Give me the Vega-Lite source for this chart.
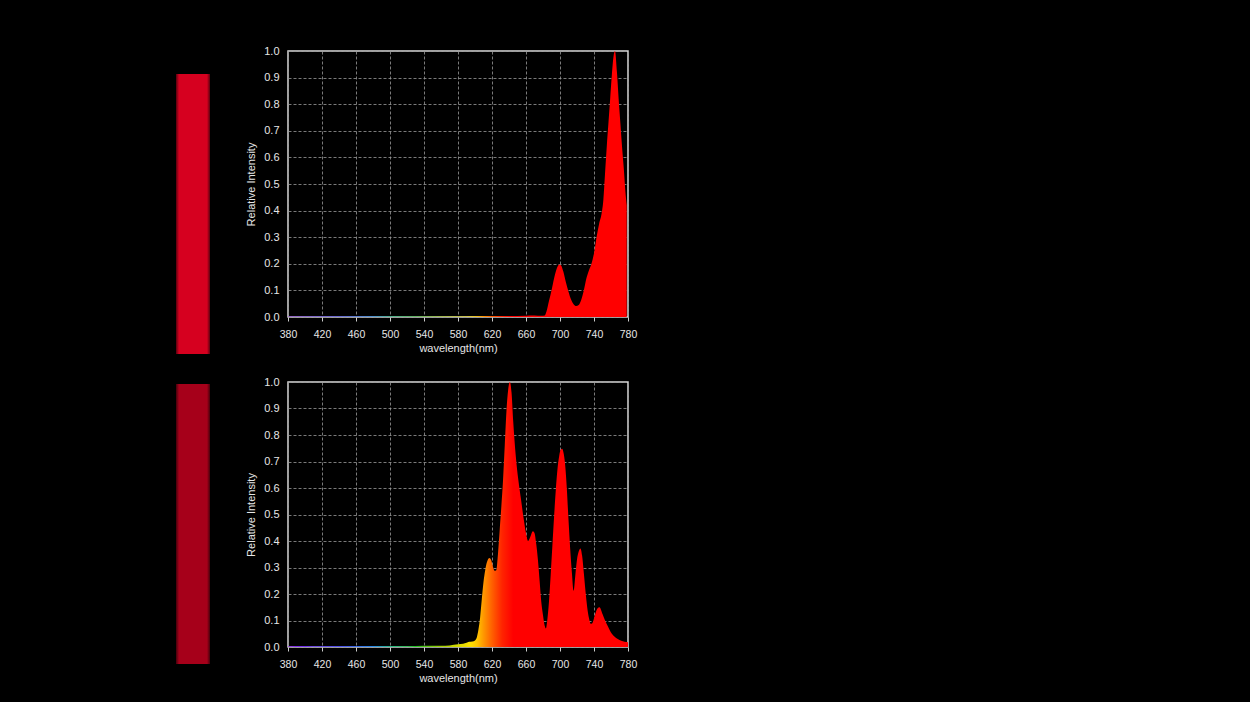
{
  "$schema": "https://vega.github.io/schema/vega-lite/v6.json",
  "background": "#000000",
  "padding": {"left": 176, "top": 44, "right": 620, "bottom": 38},
  "datasets": {
    "sw": [{"x0": 0, "x1": 1, "y0": 0, "y1": 1}],
    "top": [
      {"wl": 380, "v": 0.002}, {"wl": 400, "v": 0.002}, {"wl": 420, "v": 0.002}, {"wl": 440, "v": 0.002},
      {"wl": 460, "v": 0.002}, {"wl": 480, "v": 0.002}, {"wl": 500, "v": 0.002}, {"wl": 520, "v": 0.002},
      {"wl": 540, "v": 0.002}, {"wl": 560, "v": 0.002}, {"wl": 580, "v": 0.002}, {"wl": 600, "v": 0.003},
      {"wl": 620, "v": 0.004}, {"wl": 640, "v": 0.004}, {"wl": 660, "v": 0.005}, {"wl": 670, "v": 0.006},
      {"wl": 678, "v": 0.005}, {"wl": 682, "v": 0.006}, {"wl": 684, "v": 0.02}, {"wl": 687, "v": 0.06},
      {"wl": 690, "v": 0.1}, {"wl": 693, "v": 0.145}, {"wl": 696, "v": 0.18}, {"wl": 699, "v": 0.197},
      {"wl": 701, "v": 0.195}, {"wl": 704, "v": 0.17}, {"wl": 707, "v": 0.13}, {"wl": 710, "v": 0.095},
      {"wl": 713, "v": 0.066}, {"wl": 716, "v": 0.048}, {"wl": 719, "v": 0.041}, {"wl": 722, "v": 0.045},
      {"wl": 725, "v": 0.065}, {"wl": 728, "v": 0.1}, {"wl": 731, "v": 0.145}, {"wl": 734, "v": 0.175},
      {"wl": 737, "v": 0.2}, {"wl": 740, "v": 0.24}, {"wl": 743, "v": 0.3}, {"wl": 746, "v": 0.35},
      {"wl": 749, "v": 0.39}, {"wl": 751, "v": 0.44}, {"wl": 753, "v": 0.54}, {"wl": 755, "v": 0.64},
      {"wl": 757, "v": 0.73}, {"wl": 759, "v": 0.82}, {"wl": 761, "v": 0.91}, {"wl": 763, "v": 0.98},
      {"wl": 764.7, "v": 1.0}, {"wl": 767, "v": 0.92}, {"wl": 769, "v": 0.82}, {"wl": 771, "v": 0.73},
      {"wl": 773, "v": 0.64}, {"wl": 775, "v": 0.56}, {"wl": 777, "v": 0.47}, {"wl": 778.5, "v": 0.42}
    ],
    "bottom": [
      {"wl": 380, "v": 0.003}, {"wl": 400, "v": 0.004}, {"wl": 420, "v": 0.003}, {"wl": 440, "v": 0.003},
      {"wl": 460, "v": 0.003}, {"wl": 480, "v": 0.003}, {"wl": 500, "v": 0.003}, {"wl": 520, "v": 0.003},
      {"wl": 540, "v": 0.005}, {"wl": 560, "v": 0.005}, {"wl": 570, "v": 0.006}, {"wl": 580, "v": 0.01},
      {"wl": 586, "v": 0.012}, {"wl": 590, "v": 0.016}, {"wl": 593, "v": 0.02}, {"wl": 597, "v": 0.021},
      {"wl": 600, "v": 0.025}, {"wl": 602, "v": 0.035}, {"wl": 604, "v": 0.065}, {"wl": 606, "v": 0.11},
      {"wl": 608, "v": 0.18}, {"wl": 610, "v": 0.245}, {"wl": 612, "v": 0.29}, {"wl": 614, "v": 0.32},
      {"wl": 617, "v": 0.336}, {"wl": 619, "v": 0.328}, {"wl": 621, "v": 0.305}, {"wl": 623, "v": 0.288},
      {"wl": 625, "v": 0.29}, {"wl": 627, "v": 0.35}, {"wl": 629, "v": 0.44}, {"wl": 631, "v": 0.53},
      {"wl": 633, "v": 0.63}, {"wl": 635, "v": 0.76}, {"wl": 637, "v": 0.89}, {"wl": 639, "v": 0.97},
      {"wl": 641, "v": 1.0}, {"wl": 643, "v": 0.96}, {"wl": 645, "v": 0.85}, {"wl": 648, "v": 0.72},
      {"wl": 651, "v": 0.63}, {"wl": 654, "v": 0.56}, {"wl": 657, "v": 0.49}, {"wl": 660, "v": 0.43},
      {"wl": 662.5, "v": 0.4}, {"wl": 665, "v": 0.415}, {"wl": 668, "v": 0.437}, {"wl": 670, "v": 0.43},
      {"wl": 672, "v": 0.39}, {"wl": 674, "v": 0.33}, {"wl": 676, "v": 0.25}, {"wl": 678, "v": 0.17},
      {"wl": 680, "v": 0.12}, {"wl": 682, "v": 0.08}, {"wl": 683.5, "v": 0.07}, {"wl": 685, "v": 0.1},
      {"wl": 687, "v": 0.17}, {"wl": 689, "v": 0.27}, {"wl": 691, "v": 0.38}, {"wl": 693, "v": 0.49},
      {"wl": 695, "v": 0.59}, {"wl": 697, "v": 0.67}, {"wl": 699, "v": 0.72}, {"wl": 701, "v": 0.745},
      {"wl": 702.5, "v": 0.748}, {"wl": 704, "v": 0.735}, {"wl": 706, "v": 0.69}, {"wl": 708, "v": 0.6},
      {"wl": 710, "v": 0.48}, {"wl": 712, "v": 0.37}, {"wl": 714, "v": 0.28}, {"wl": 716, "v": 0.212},
      {"wl": 718, "v": 0.27}, {"wl": 720, "v": 0.33}, {"wl": 722, "v": 0.36}, {"wl": 724, "v": 0.372},
      {"wl": 726, "v": 0.345}, {"wl": 728, "v": 0.28}, {"wl": 730, "v": 0.21}, {"wl": 732, "v": 0.15},
      {"wl": 734, "v": 0.11}, {"wl": 736, "v": 0.088}, {"wl": 738, "v": 0.09}, {"wl": 741, "v": 0.12},
      {"wl": 744, "v": 0.145}, {"wl": 746.5, "v": 0.15}, {"wl": 750, "v": 0.125}, {"wl": 753, "v": 0.1},
      {"wl": 756, "v": 0.08}, {"wl": 760, "v": 0.055}, {"wl": 764, "v": 0.04}, {"wl": 768, "v": 0.03},
      {"wl": 772, "v": 0.024}, {"wl": 776, "v": 0.02}, {"wl": 780, "v": 0.018}
    ]
  },
  "vconcat": [
    {
      "hconcat": [
        {
          "width": 34, "height": 303,
          "view": {"stroke": null},
          "data": {"name": "sw"},
          "mark": {"type": "rect", "color": {"gradient": "linear", "x1": 0, "x2": 1, "y1": 0, "y2": 0,
            "stops": [{"offset": 0, "color": "#5a000e"}, {"offset": 0.09, "color": "#d6001f"}, {"offset": 0.91, "color": "#d6001f"}, {"offset": 1, "color": "#5a000e"}]}},
          "encoding": {
            "x": {"field": "x0", "type": "quantitative", "scale": {"domain": [0, 1], "nice": false}, "axis": null},
            "x2": {"field": "x1"},
            "y": {"field": "y0", "type": "quantitative", "scale": {"domain": [0, 1.0821], "nice": false}, "axis": null},
            "y2": {"field": "y1"}
          }
        },
        {
          "width": 340, "height": 266,
          "data": {"name": "top"},
          "mark": {"type": "area", "interpolate": "monotone", "color": {"gradient": "linear", "x1": 0, "x2": 1, "y1": 0, "y2": 0,
            "stops": [
              {"offset": 0, "color": "#8a2be2"}, {"offset": 0.15, "color": "#3030ff"}, {"offset": 0.25, "color": "#0080ff"},
              {"offset": 0.3, "color": "#00c080"}, {"offset": 0.375, "color": "#20c020"}, {"offset": 0.45, "color": "#a0d000"},
              {"offset": 0.5375, "color": "#ffe000"}, {"offset": 0.555, "color": "#ffc800"}, {"offset": 0.575, "color": "#ff9800"},
              {"offset": 0.6, "color": "#ff6000"}, {"offset": 0.63, "color": "#ff2400"}, {"offset": 0.6625, "color": "#ff0000"},
              {"offset": 1, "color": "#ff0000"}]}},
          "encoding": {
            "x": {"field": "wl", "type": "quantitative", "scale": {"domain": [380, 780], "nice": false},
              "axis": {"title": "wavelength(nm)", "values": [380, 420, 460, 500, 540, 580, 620, 660, 700, 740, 780]}},
            "y": {"field": "v", "type": "quantitative", "scale": {"domain": [0, 1], "nice": false},
              "axis": {"title": "Relative Intensity", "values": [0, 0.1, 0.2, 0.3, 0.4, 0.5, 0.6, 0.7, 0.8, 0.9, 1.0], "format": ".1f"}}
          }
        }
      ],
      "spacing": 78,
      "bounds": "flush"
    },
    {
      "hconcat": [
        {
          "width": 34, "height": 282,
          "view": {"stroke": null},
          "data": {"name": "sw"},
          "mark": {"type": "rect", "color": {"gradient": "linear", "x1": 0, "x2": 1, "y1": 0, "y2": 0,
            "stops": [{"offset": 0, "color": "#46000b"}, {"offset": 0.09, "color": "#a6001a"}, {"offset": 0.91, "color": "#a6001a"}, {"offset": 1, "color": "#46000b"}]}},
          "encoding": {
            "x": {"field": "x0", "type": "quantitative", "scale": {"domain": [0, 1], "nice": false}, "axis": null},
            "x2": {"field": "x1"},
            "y": {"field": "y0", "type": "quantitative", "scale": {"domain": [0, 1.0071], "nice": false}, "axis": null},
            "y2": {"field": "y1"}
          }
        },
        {
          "width": 340, "height": 265,
          "data": {"name": "bottom"},
          "mark": {"type": "area", "interpolate": "monotone", "color": {"gradient": "linear", "x1": 0, "x2": 1, "y1": 0, "y2": 0,
            "stops": [
              {"offset": 0, "color": "#8a2be2"}, {"offset": 0.15, "color": "#3030ff"}, {"offset": 0.25, "color": "#0080ff"},
              {"offset": 0.3, "color": "#00c080"}, {"offset": 0.375, "color": "#20c020"}, {"offset": 0.45, "color": "#a0d000"},
              {"offset": 0.5375, "color": "#ffe000"}, {"offset": 0.555, "color": "#ffc800"}, {"offset": 0.575, "color": "#ff9800"},
              {"offset": 0.6, "color": "#ff6000"}, {"offset": 0.63, "color": "#ff2400"}, {"offset": 0.6625, "color": "#ff0000"},
              {"offset": 1, "color": "#ff0000"}]}},
          "encoding": {
            "x": {"field": "wl", "type": "quantitative", "scale": {"domain": [380, 780], "nice": false},
              "axis": {"title": "wavelength(nm)", "values": [380, 420, 460, 500, 540, 580, 620, 660, 700, 740, 780]}},
            "y": {"field": "v", "type": "quantitative", "scale": {"domain": [0, 1], "nice": false},
              "axis": {"title": "Relative Intensity", "values": [0, 0.1, 0.2, 0.3, 0.4, 0.5, 0.6, 0.7, 0.8, 0.9, 1.0], "format": ".1f"}}
          }
        }
      ],
      "spacing": 78,
      "bounds": "flush"
    }
  ],
  "spacing": 20,
  "config": {
    "font": "Liberation Sans",
    "view": {"stroke": "#d9d9d9", "strokeWidth": 1.5},
    "axis": {
      "domain": false,
      "grid": true,
      "gridColor": "#999999",
      "gridDash": [3, 2],
      "gridWidth": 0.8,
      "labelColor": "#e6e6e6",
      "labelFont": "Liberation Sans",
      "labelFlush": false,
      "titleColor": "#e6e6e6",
      "titleFont": "Liberation Sans",
      "titleFontWeight": "normal",
      "titleFontSize": 11
    },
    "axisX": {"ticks": true, "tickColor": "#cccccc", "tickSize": 4, "labelFontSize": 10.5, "labelPadding": 8, "titlePadding": 3},
    "axisY": {"ticks": false, "labelFontSize": 11, "labelPadding": 9, "titlePadding": 7}
  }
}
